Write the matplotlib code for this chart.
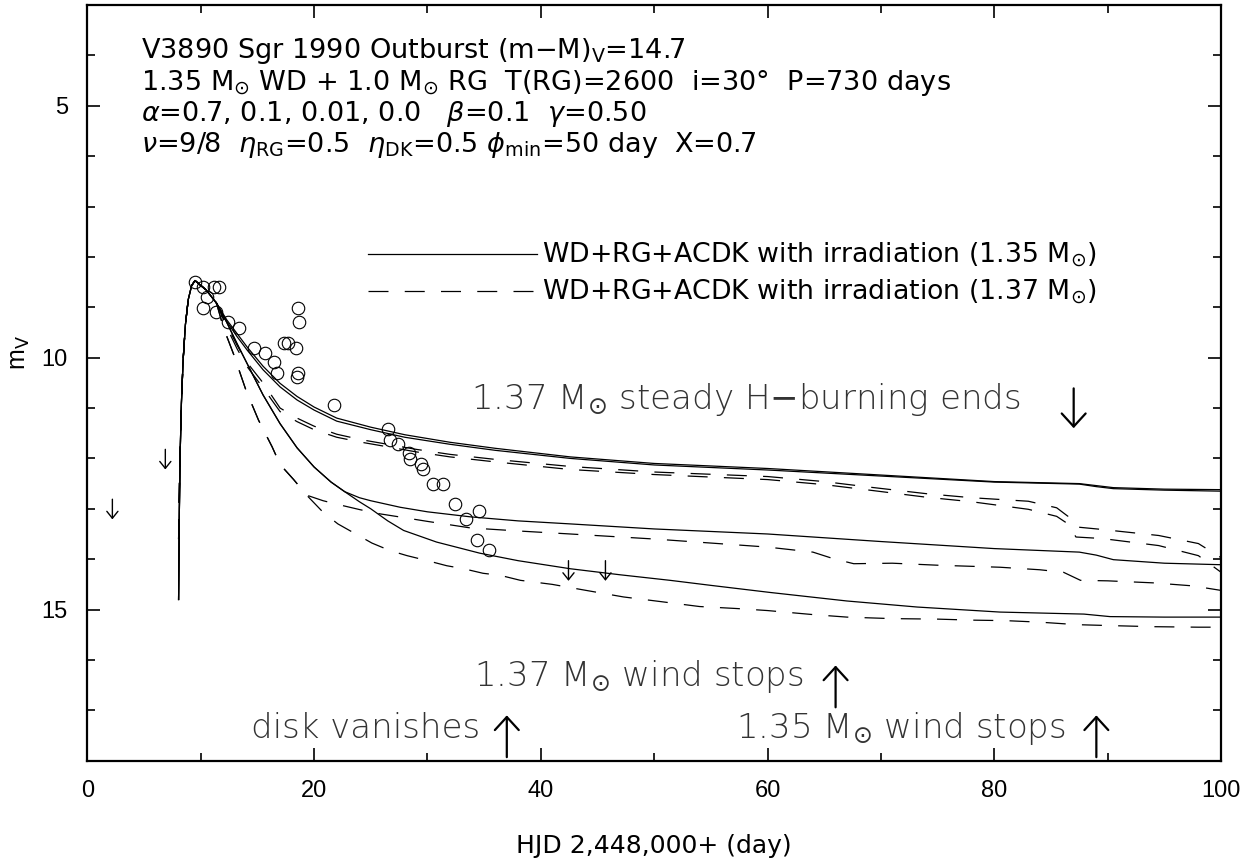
import matplotlib
matplotlib.use('Agg')
import matplotlib.pyplot as plt
from matplotlib.ticker import MultipleLocator
from matplotlib.lines import Line2D

plt.rcParams['font.family'] = 'DejaVu Sans'
plt.rcParams['mathtext.fontset'] = 'dejavusans'

# observed V magnitudes (open circles)
obs_x = [9.50, 10.18, 11.20, 11.62, 10.56, 10.18, 11.35, 12.39, 13.41, 14.68,
         15.68, 16.50, 16.71, 17.38, 17.68, 18.39, 18.59, 18.70, 18.59, 18.47,
         21.76, 26.49, 26.70, 27.38, 28.38, 28.47, 29.41, 29.59, 30.50, 31.38,
         32.41, 34.58, 33.38, 34.35, 35.41]
obs_m = [8.50, 8.60, 8.59, 8.59, 8.80, 9.01, 9.10, 9.30, 9.41, 9.81,
         9.90, 10.08, 10.30, 9.71, 9.71, 9.81, 9.01, 9.30, 10.30, 10.39,
         10.93, 11.41, 11.64, 11.71, 11.90, 12.02, 12.11, 12.21, 12.51, 12.51,
         12.91, 13.04, 13.21, 13.61, 13.81]

# upper limits (down arrows)
lim_x = [2.21, 6.88, 42.44, 45.70]
lim_m = [12.81, 11.82, 14.03, 14.03]

# rise to maximum, common to all models
rise_x = [8.05, 8.12, 8.2, 8.3, 8.45, 8.65, 8.9, 9.2, 9.5, 10.5, 11.4]
rise_m = [14.8, 13.0, 11.8, 10.9, 10.05, 9.35, 8.85, 8.57, 8.47, 8.66, 8.92]
rise_dash_m = [13.6, 12.6, 11.7, 10.9, 10.05, 9.35, 8.85, 8.57, 8.47, 8.66, 8.92]

# 1.35 Msun models (solid)
s1_x = [12.3, 13.2, 14.1, 15.5, 17.0, 18.5, 20.0, 22.0, 25.0, 28.0, 32.0, 36.0,
        42.6, 50.0, 60.0, 70.0, 80.0, 87.5, 89.0, 90.5, 95.0, 100.0]
s1_m = [9.25, 9.52, 9.79, 10.17, 10.51, 10.77, 10.98, 11.20, 11.38, 11.53, 11.68, 11.80,
        11.97, 12.10, 12.20, 12.33, 12.46, 12.50, 12.54, 12.58, 12.61, 12.62]
s2_m = [9.28, 9.58, 9.85, 10.24, 10.58, 10.84, 11.04, 11.26, 11.43, 11.58, 11.72, 11.84,
        12.00, 12.13, 12.23, 12.35, 12.47, 12.51, 12.56, 12.60, 12.63, 12.65]

s34_x = [12.3, 13.2, 14.1, 15.5, 17.0, 18.5, 20.0, 21.5, 22.7]
s34_m = [9.30, 9.72, 10.12, 10.74, 11.31, 11.79, 12.17, 12.47, 12.66]
s3_x = [24.0, 25.0, 27.6, 30.0, 33.8, 38.0, 42.6, 50.0, 60.0, 70.0, 80.0, 87.5,
        89.0, 90.5, 95.0, 100.0]
s3_m = [12.78, 12.84, 12.97, 13.06, 13.16, 13.24, 13.30, 13.40, 13.50, 13.65, 13.79, 13.86,
        13.92, 14.01, 14.08, 14.11]
s4_x = [24.0, 25.0, 26.5, 27.9, 30.8, 34.6, 38.0, 42.6, 47.0, 51.4, 55.0, 60.2,
        67.0, 73.2, 80.5, 87.9, 90.2, 95.0, 100.0]
s4_m = [12.86, 13.00, 13.24, 13.43, 13.66, 13.88, 14.03, 14.19, 14.31, 14.42, 14.52, 14.66,
        14.83, 14.95, 15.05, 15.09, 15.14, 15.15, 15.15]

# 1.37 Msun models (dashed)
d1_x = [12.3, 13.2, 14.1, 15.5, 17.0, 18.5, 20.0, 22.0, 24.2, 26.5, 29.0, 32.0,
        36.0, 42.6, 50.0, 60.0, 65.0, 69.0, 74.0, 78.0, 83.0, 85.5, 86.5, 87.2,
        89.5, 94.5, 98.0, 100.0]
d1_m = [9.35, 9.75, 10.10, 10.50, 11.00, 11.20, 11.36, 11.52, 11.63, 11.72, 11.82, 11.92,
        12.02, 12.16, 12.27, 12.36, 12.46, 12.57, 12.70, 12.78, 12.85, 12.98, 13.15, 13.36,
        13.41, 13.53, 13.69, 13.97]
d2_m = [9.40, 9.82, 10.18, 10.60, 11.07, 11.27, 11.43, 11.58, 11.68, 11.77, 11.87, 11.97,
        12.07, 12.22, 12.32, 12.42, 12.52, 12.63, 12.77, 12.86, 13.01, 13.15, 13.30, 13.56,
        13.59, 13.73, 13.93, 14.26]

d34_x = [12.0, 12.9, 14.0, 15.1, 16.3, 17.0, 18.2, 19.35]
d34_m = [9.40, 9.93, 10.65, 11.24, 11.77, 12.12, 12.42, 12.73]
d3_x = [20.8, 22.4, 24.1, 25.8, 27.5, 30.0, 33.8, 38.0, 42.6, 50.0, 55.0, 60.0,
        64.0, 65.8, 67.6, 71.0, 75.0, 80.5, 84.0, 86.1, 87.6, 90.0, 94.0, 97.5, 100.0]
d3_m = [12.84, 12.93, 13.02, 13.10, 13.16, 13.25, 13.38, 13.44, 13.50, 13.60, 13.68, 13.76,
        13.86, 13.99, 14.09, 14.08, 14.12, 14.16, 14.21, 14.26, 14.42, 14.43, 14.47, 14.53, 14.62]
d4_x = [20.8, 22.1, 23.6, 25.1, 26.7, 28.2, 30.0, 31.7, 33.2, 34.9, 36.4, 38.2,
        41.0, 44.0, 47.3, 50.5, 54.0, 57.3, 60.0, 64.0, 67.0, 71.0, 75.0, 78.0,
        81.0, 84.0, 87.3, 90.5, 94.0, 98.0, 100.0]
d4_m = [13.07, 13.30, 13.49, 13.68, 13.83, 13.93, 14.03, 14.13, 14.19, 14.28, 14.32, 14.42,
        14.50, 14.62, 14.75, 14.84, 14.94, 14.98, 15.02, 15.10, 15.15, 15.18, 15.19, 15.21,
        15.22, 15.25, 15.30, 15.32, 15.34, 15.35, 15.35]

# event days marked with big arrows
disk_day, wind137_day, hburn137_day, wind135_day = 37.0, 66.0, 87.0, 89.0

fig = plt.figure(figsize=(12.6, 8.61), dpi=100)
ax = fig.add_axes([0.0693, 0.1165, 0.8998, 0.8777])

lw = 0.9
dash = (0, (16, 13))
ax.plot(rise_x + s1_x, rise_m + s1_m, color='k', lw=lw)
ax.plot(rise_x + s1_x, rise_m + s2_m, color='k', lw=lw)
ax.plot(rise_x + s34_x + s3_x, rise_m + s34_m + s3_m, color='k', lw=lw)
ax.plot(rise_x + s34_x + s4_x, rise_m + s34_m + s4_m, color='k', lw=lw)
ax.plot(rise_x + d1_x, rise_dash_m + d1_m, color='k', lw=lw, ls=dash)
ax.plot(rise_x + d1_x, rise_dash_m + d2_m, color='k', lw=lw, ls=dash)
ax.plot(rise_x + d34_x + d3_x, rise_dash_m + d34_m + d3_m, color='k', lw=lw, ls=dash)
ax.plot(rise_x + d34_x + d4_x, rise_dash_m + d34_m + d4_m, color='k', lw=lw, ls=dash)

ax.plot(obs_x, obs_m, 'o', mfc='none', mec='k', ms=9, mew=0.8)

# upper limits
for x, m in zip(lim_x, lim_m):
    ax.annotate('', xy=(x, m + 0.4), xytext=(x, m),
                arrowprops=dict(arrowstyle='->,head_length=0.5,head_width=0.4',
                                lw=1.0, color='k', shrinkA=0, shrinkB=0,
                                mutation_scale=10))

# legend
h1 = Line2D([], [], color='k', lw=lw)
h2 = Line2D([], [], color='k', lw=lw, ls=dash)
ax.legend([h1, h2], ['WD+RG+ACDK with irradiation (1.35 M$_{\\odot}$)',
                     'WD+RG+ACDK with irradiation (1.37 M$_{\\odot}$)'],
          loc='upper left', bbox_to_anchor=(0.2475, 0.688), frameon=False,
          fontsize=19.3, handlelength=6.3, handletextpad=0.2, borderpad=0,
          borderaxespad=0, labelspacing=0.3)

# header text
hdr = ['V3890 Sgr 1990 Outburst (m$-$M)$_{\\rm V}$=14.7',
       '1.35 M$_{\\odot}$ WD + 1.0 M$_{\\odot}$ RG  T(RG)=2600  i=30°  P=730 days',
       '$\\alpha$=0.7, 0.1, 0.01, 0.0   $\\beta$=0.1  $\\gamma$=0.50',
       '$\\nu$=9/8  $\\eta_{\\rm RG}$=0.5  $\\eta_{\\rm DK}$=0.5 $\\phi_{\\rm min}$=50 day  X=0.7']
hdr_m = [4.05, 4.68, 5.31, 5.91]
for t, m in zip(hdr, hdr_m):
    ax.text(4.76, m, t, fontsize=19.5, ha='left', va='baseline')

# event annotations
big = dict(fontsize=24.5, fontweight='light', color='#333333', va='baseline', ha='right')
arr = dict(arrowstyle='->,head_length=0.47,head_width=0.43', lw=1.6, color='k',
           shrinkA=0, shrinkB=0, mutation_scale=20)
ax.text(82.3, 11.01, '1.37 M$_{\\odot}$ steady H$-$burning ends', **big)
ax.annotate('', xy=(hburn137_day, 11.4), xytext=(hburn137_day, 10.61), arrowprops=arr)
ax.text(63.2, 16.51, '1.37 M$_{\\odot}$ wind stops', **big)
ax.annotate('', xy=(wind137_day, 16.11), xytext=(wind137_day, 16.94), arrowprops=arr)
ax.text(34.65, 17.54, 'disk vanishes', **big)
ax.annotate('', xy=(disk_day, 17.1), xytext=(disk_day, 17.93), arrowprops=arr)
ax.text(86.26, 17.54, '1.35 M$_{\\odot}$ wind stops', **big)
ax.annotate('', xy=(wind135_day, 17.1), xytext=(wind135_day, 17.93), arrowprops=arr)

ax.set_xlim(0, 100)
ax.set_ylim(18, 3)
ax.set_xticks([0, 20, 40, 60, 80, 100])
ax.set_yticks([5, 10, 15])
ax.xaxis.set_minor_locator(MultipleLocator(10))
ax.yaxis.set_minor_locator(MultipleLocator(1))
ax.tick_params(which='both', direction='in', top=True, right=True, width=1.2)
ax.tick_params(which='major', length=9.4, pad=14)
ax.tick_params(which='minor', length=5.5)
for lab in ax.get_xticklabels() + ax.get_yticklabels():
    lab.set_fontfamily('Liberation Sans')
    lab.set_fontsize(17)
for sp in ax.spines.values():
    sp.set_linewidth(1.6)

ax.set_xlabel('HJD 2,448,000+ (day)', fontsize=18, labelpad=23)
ax.set_ylabel('m$_{\\rm V}$', fontsize=18, family='Liberation Sans')
ax.yaxis.set_label_coords(-0.049, 0.54)

fig.savefig('out.png', dpi=100)
